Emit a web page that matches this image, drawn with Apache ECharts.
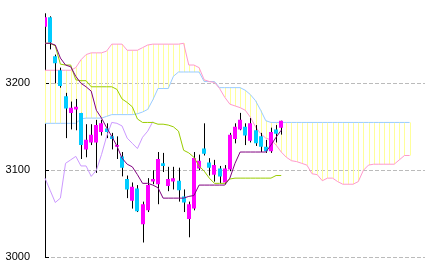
<!DOCTYPE html>
<html><head><meta charset="utf-8">
<script src="https://cdn.jsdelivr.net/npm/echarts@6/dist/echarts.min.js"></script>
<style>html,body{margin:0;padding:0;background:#fff}#c{width:430px;height:271px}</style>
</head><body><div id="c"></div>
<script>
// slot count: 47 candles + 25 future slots for the cloud + 3 empty slots to the right edge
const slotCount = 75;
const slots = Array.from({length: slotCount}, (_, i) => String(i));

const opens  = [3265,3276,3231,3215,3185,3166,3170,3166,3124,3132,3132,3144,3148,3139,3127,3116,3090,3065,3079,3038,3054,3087,3084,3108,3082,3087,3088,3070,3044,3056,3102,3125,3109,3095,3102,3086,3101,3136,3147,3150,3134,3146,3139,3127,3122,3147,3149];
const closes = [3276,3247,3223,3197,3171,3172,3173,3129,3135,3141,3152,3154,3144,3136,3129,3103,3078,3081,3053,3061,3083,3090,3113,3105,3090,3091,3077,3063,3061,3114,3111,3119,3103,3106,3093,3102,3141,3150,3158,3140,3154,3131,3127,3122,3144,3142,3157];
const lows   = [3264,3239,3200,3195,3137,3147,3146,3113,3115,3129,3097,3140,3137,3124,3113,3093,3068,3056,3052,3017,3052,3084,3061,3098,3076,3078,3064,3052,3023,3054,3100,3117,3094,3087,3085,3084,3099,3131,3146,3129,3132,3128,3121,3120,3120,3132,3141];
const highs  = [3277,3277,3233,3218,3189,3179,3182,3166,3153,3153,3158,3158,3154,3143,3139,3121,3094,3086,3083,3064,3091,3100,3121,3120,3104,3104,3103,3078,3064,3121,3118,3154,3114,3112,3105,3106,3143,3154,3166,3154,3160,3152,3143,3135,3149,3152,3157];

const tenkan = [3246,3246,3244,3229,3221,3219,3208,3200,3196,3191,3169,3160,3149,3139,3128,3114,3107,3104,3095,3085,3085,3083,3080,3068,3068,3068,3068,3068,3070,3071,3083,3083,3083,3083,3083,3083,3091,3108,3121,3121,3121,3121,3121,3121,3129,3138,3146];
const kijun  = [3246,3246,3243,3222,3221,3221,3204,3203,3203,3196,3196,3196,3196,3196,3193,3182,3178,3173,3159,3155,3155,3155,3153,3153,3152,3150,3145,3123,3120,3115,3105,3099,3091,3085,3085,3085,3090,3091,3091,3091,3091,3091,3091,3091,3091,3094,3094];
const senkouA = [3154,3154,3154,3154,3154,3154,3154,3159,3160,3160,3160,3160,3162,3164,3164,3164,3164,3164,3165,3167,3170,3181,3194,3194,3194,3208,3213,3213,3213,3213,3213,3202,3202,3202,3195,3195,3195,3195,3195,3192,3187,3180,3169,3157,3155,3155,3155,3155,3155,3155,3155,3155,3155,3155,3155,3155,3155,3155,3155,3155,3155,3155,3155,3155,3155,3155,3155,3155,3155,3155,3155,3155];
const senkouB = [3215,3215,3215,3215,3215,3215,3218,3227,3233,3235,3235,3235,3237,3245,3245,3245,3238,3238,3238,3241,3244,3245,3245,3245,3245,3245,3245,3246,3221,3221,3218,3204,3202,3201,3194,3184,3176,3174,3172,3169,3161,3150,3142,3137,3135,3129,3121,3115,3111,3110,3108,3106,3096,3095,3088,3091,3091,3087,3084,3084,3084,3087,3100,3106,3107,3107,3107,3107,3107,3112,3117,3117];
const chikou = [3091,3077,3063,3068,3108,3112,3116,3105,3105,3093,3100,3118,3139,3155,3154,3151,3137,3131,3125,3138,3145,3156];

const yTicks = [3000, 3100, 3200];

const chart = echarts.init(document.getElementById('c'), null, {renderer: 'canvas'});

const candleData = opens.map((o, i) => [i, o, closes[i], lows[i], highs[i]]);
const cloudData = senkouA.map((a, i) => [i, a, senkouB[i]]);

function lineSeries(data, color, z) {
  return {type: 'line', data: data, symbol: 'none', smooth: false, z: z,
    lineStyle: {color: color, width: 1}, silent: true, animation: false};
}

chart.setOption({
  animation: false,
  backgroundColor: '#ffffff',
  grid: {left: 45, right: 5, top: 13.7, bottom: 13.7, containLabel: false},
  xAxis: {type: 'category', data: slots, boundaryGap: false,
    axisLine: {show: false}, axisTick: {show: false}, axisLabel: {show: false}, splitLine: {show: false}},
  yAxis: {type: 'value', min: 3000, max: 3280, interval: 100,
    axisLine: {show: true, lineStyle: {color: '#000', width: 1}},
    axisTick: {show: true, inside: true, length: 4, lineStyle: {color: '#000'}, customValues: yTicks},
    axisLabel: {color: '#000', fontSize: 11, fontFamily: 'Liberation Sans', margin: 15, customValues: yTicks,
      formatter: function (v) { return String(v); }},
    splitLine: {show: true, lineStyle: {color: '#bbbbbb', type: [4, 2], width: 1}}
  },
  series: [
    {type: 'custom', z: 1, silent: true, data: cloudData,
      encode: {x: 0, y: [1, 2]},
      renderItem: function (params, api) {
        const i = api.value(0);
        const p1 = api.coord([i, api.value(1)]);
        const p2 = api.coord([i, api.value(2)]);
        const x = Math.round(p1[0]) + 0.5;
        return {type: 'line', shape: {x1: x, y1: p1[1], x2: x, y2: p2[1]},
          style: {stroke: '#ffff99', lineWidth: 1}};
      }},
    lineSeries(senkouA, '#99ccff', 2),
    lineSeries(senkouB, '#ff99cc', 2),
    {type: 'custom', z: 3, silent: true, clip: true, data: candleData,
      encode: {x: 0, y: [1, 2, 3, 4]},
      renderItem: function (params, api) {
        const i = api.value(0);
        const o = api.value(1), c = api.value(2), l = api.value(3), h = api.value(4);
        const po = api.coord([i, o]);
        const x = Math.round(po[0]);
        const yo = po[1], yc = api.coord([i, c])[1];
        const yl = api.coord([i, l])[1], yh = api.coord([i, h])[1];
        const top = Math.min(yo, yc), bot = Math.max(yo, yc);
        const up = c >= o;
        return {type: 'group', children: [
          {type: 'line', shape: {x1: x + 0.5, y1: yh, x2: x + 0.5, y2: yl},
            style: {stroke: '#000', lineWidth: 1}},
          {type: 'rect', shape: {x: x - 2, y: top, width: 4, height: Math.max(bot - top, 1.5)},
            style: {fill: up ? '#ff00ff' : '#00ccff'}}
        ]};
      }},
    lineSeries(chikou, '#cc99ff', 4),
    lineSeries(kijun, '#99cc00', 4),
    lineSeries(tenkan, '#800080', 5)
  ]
});
</script>
</body></html>
